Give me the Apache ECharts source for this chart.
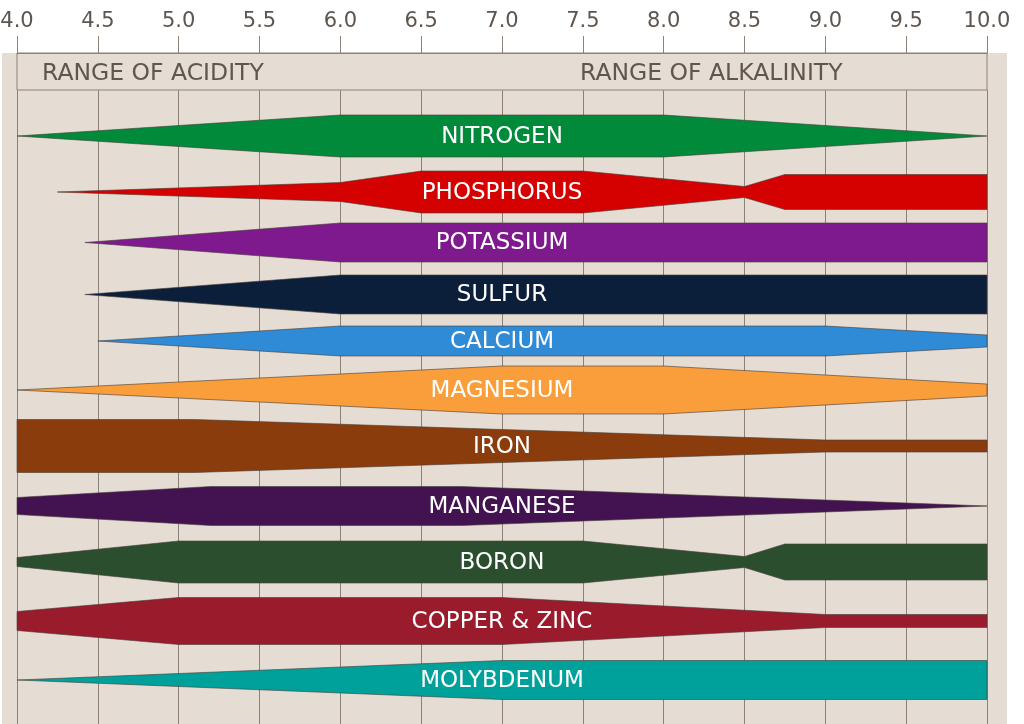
<!DOCTYPE html>
<html><head><meta charset="utf-8">
<script src="https://cdn.jsdelivr.net/npm/echarts@6/dist/echarts.min.js"></script>
<style>html,body{margin:0;padding:0;background:#fff}#c{width:1024px;height:724px}</style>
</head><body><div id="c"></div>
<script>
// pH axis
const phMin = 4.0, phMax = 10.0, phStep = 0.5;
const headerLabels = ['RANGE OF ACIDITY', 'RANGE OF ALKALINITY'];

// Nutrients (top to bottom)
const nutrients = ['NITROGEN','PHOSPHORUS','POTASSIUM','SULFUR','CALCIUM','MAGNESIUM','IRON','MANGANESE','BORON','COPPER & ZINC','MOLYBDENUM'];
// Row centre of each band (hidden vertical scale)
const rowCenters = [4.6, 10.2, 15.25, 20.45, 25.1, 30.0, 35.6, 41.6, 47.2, 53.1, 59.0];

// Availability profiles: [pH, half-thickness]
const nitrogen    = [[4.0,0],[6.0,2.1],[8.0,2.1],[10.0,0]];
const phosphorus  = [[4.25,0],[6.0,0.95],[6.5,2.1],[7.5,2.1],[8.5,0.55],[8.75,1.75],[10.0,1.75]];
const potassium   = [[4.42,0],[6.0,1.95],[10.0,1.95]];
const sulfur      = [[4.42,0],[6.0,1.95],[10.0,1.95]];
const calcium     = [[4.5,0],[6.0,1.5],[9.0,1.5],[10.0,0.6]];
const magnesium   = [[4.0,0],[7.0,2.4],[8.0,2.4],[10.0,0.6]];
const iron        = [[4.0,2.65],[5.1,2.65],[9.0,0.6],[10.0,0.6]];
const manganese   = [[4.0,0.85],[5.2,1.95],[6.75,1.95],[10.0,0]];
const boron       = [[4.0,0.45],[5.0,2.1],[7.5,2.1],[8.5,0.55],[8.75,1.8],[10.0,1.8]];
const copperZinc  = [[4.0,0.95],[5.0,2.35],[7.0,2.35],[9.0,0.65],[10.0,0.65]];
const molybdenum  = [[4.0,0],[7.0,1.95],[10.0,1.95]];
const profiles = [nitrogen, phosphorus, potassium, sulfur, calcium, magnesium, iron, manganese, boron, copperZinc, molybdenum];

const colors = ['#008a3a','#d50000','#7f1a8e','#0c1f3a','#2f8bd6','#fa9e3c','#8b3c0c','#431250','#2b4f2e','#9a1b2c','#00a19a'];

const labelPh = 7.0;
const gridColor = '#8c8178';
const textColor = '#5f564f';
const font = '"DejaVu Sans", "Open Sans", sans-serif';

const chart = echarts.init(document.getElementById('c'), null, {renderer: 'canvas'});
chart.setOption({
  animation: false,
  backgroundColor: '#ffffff',
  graphic: [
    {type:'rect', z:-10, shape:{x:2, y:53, width:1005, height:671}, style:{fill:'#e5dcd3'}},
    {type:'text', x:42, y:74, style:{text: headerLabels[0], fill: textColor, font: '23.5px ' + font, verticalAlign:'middle'}},
    {type:'text', x:580, y:74, style:{text: headerLabels[1], fill: textColor, font: '23.5px ' + font, verticalAlign:'middle'}}
  ],
  grid: [
    {left:17, right:37, top:53, height:37, outerBoundsMode:'none', containLabel:false, show:true, borderColor:gridColor, borderWidth:1, backgroundColor:'transparent'},
    {left:17, right:37, top:90, bottom:0, outerBoundsMode:'none', containLabel:false}
  ],
  xAxis: [
    {gridIndex:0, type:'value', position:'top', min:phMin, max:phMax, interval:phStep,
     axisLine:{show:true, onZero:false, lineStyle:{color:gridColor, width:1}},
     axisTick:{show:true, inside:false, length:17, lineStyle:{color:gridColor, width:1}},
     axisLabel:{show:true, margin:21, color:'#5e554e', fontSize:21, fontFamily:font, formatter: v => v.toFixed(1)},
     splitLine:{show:false}},
    {gridIndex:1, type:'value', min:phMin, max:phMax, interval:phStep,
     axisLine:{show:false, onZero:false}, axisTick:{show:false}, axisLabel:{show:false},
     splitLine:{show:true, showMinLine:true, showMaxLine:true, lineStyle:{color:gridColor, width:1}}}
  ],
  yAxis: [
    {gridIndex:0, type:'value', show:false, min:0, max:1},
    {gridIndex:1, type:'value', show:false, min:0, max:63.4, inverse:true, splitLine:{show:false}}
  ],
  series: [{
    type:'custom', xAxisIndex:1, yAxisIndex:1, clip:false,
    data: rowCenters.map(c => [labelPh, c]),
    renderItem: function(params, api) {
      const i = params.dataIndex;
      const prof = profiles[i], c = rowCenters[i];
      const upper = prof.map(p => api.coord([p[0], c - p[1]]));
      const lower = prof.slice().reverse().map(p => api.coord([p[0], c + p[1]]));
      const lab = api.coord([labelPh, c]);
      return {type:'group', children:[
        {type:'polygon', shape:{points: upper.concat(lower)},
         style:{fill: colors[i], stroke:'rgba(70,60,55,0.6)', lineWidth:1}},
        {type:'text', x: lab[0], y: lab[1] + 1,
         style:{text: nutrients[i], fill:'#ffffff', font:'23px ' + font, align:'center', verticalAlign:'middle'}}
      ]};
    }
  }]
});
</script></body></html>
